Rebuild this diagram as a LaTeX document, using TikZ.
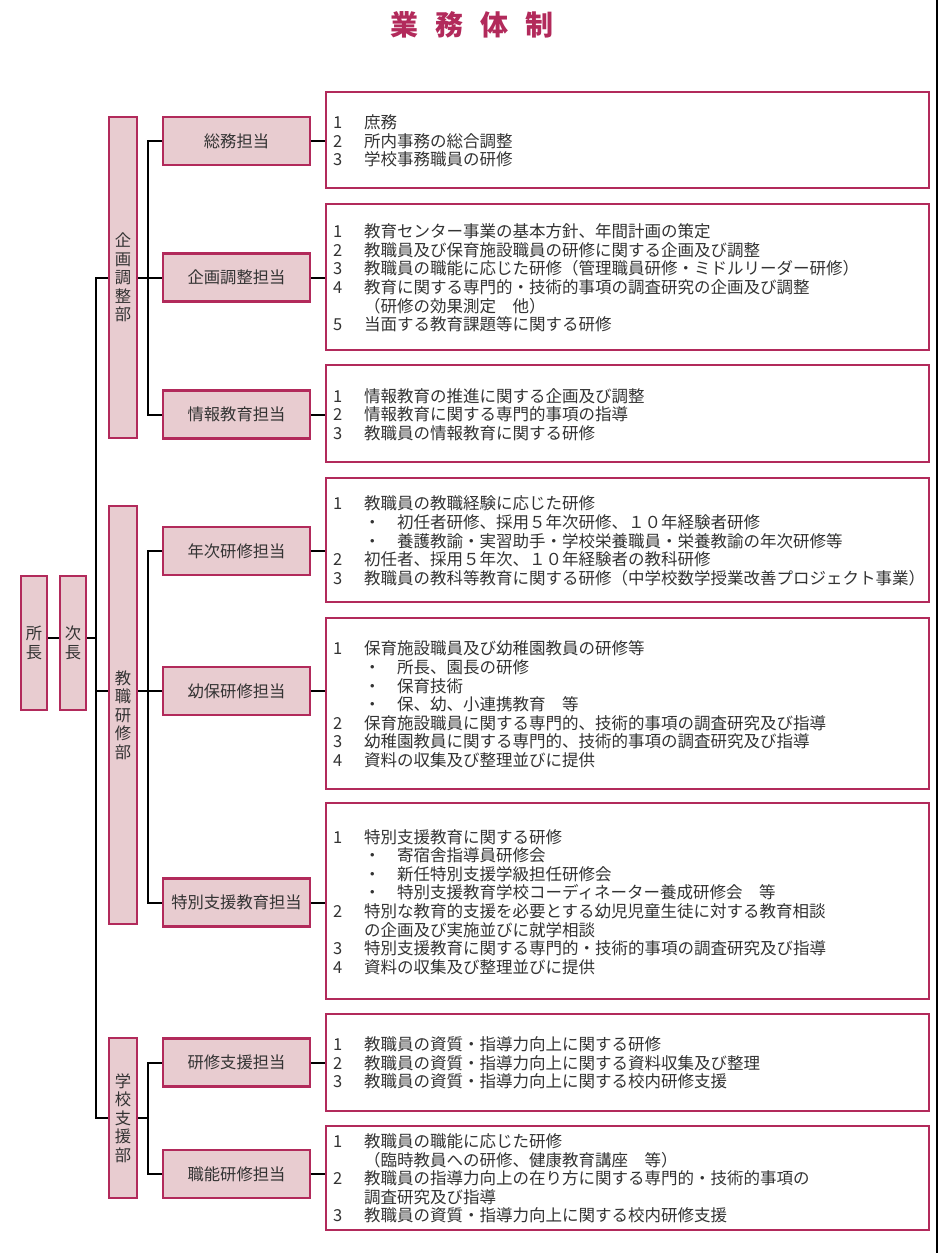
\documentclass[tikz,border=0pt]{standalone}
\usepackage{fontspec}
\setmainfont{Noto Sans CJK JP}
\definecolor{crim}{HTML}{B22A5B}
\definecolor{pinkfill}{HTML}{E8CCD0}
\definecolor{txtgray}{HTML}{333333}
\newcommand{\nm}[1]{\makebox[31pt][l]{#1}}
\tikzset{
  box/.style={draw=crim, line width=2.4pt, fill=pinkfill, inner sep=0pt, text=txtgray},
  tanto/.style={box, minimum width=147pt, minimum height=48pt, font=\fontsize{16.3}{18}\selectfont},
  bu/.style={box, minimum width=28pt, align=center, font=\fontsize{16.3}{18.5}\selectfont},
  head/.style={box, minimum width=26pt, minimum height=134pt, align=center, font=\fontsize{16.3}{19}\selectfont},
  content/.style={draw=crim, line width=2.4pt, fill=white, minimum width=603pt, inner sep=0pt},
  list/.style={anchor=west, inner sep=0pt, text=txtgray, font=\fontsize{16.5}{18.6}\selectfont, align=left},
  conn/.style={draw=black, line width=2pt},
}
\begin{document}
\begin{tikzpicture}[x=1pt, y=-1pt]
\useasboundingbox (0,0) rectangle (938,1253);

% title
\node[font=\fontsize{28}{28}\selectfont\bfseries, text=crim, inner sep=0pt] (title) at (472,25)
  {業\hspace{17pt}務\hspace{17pt}体\hspace{17pt}制};

% head boxes
\node[head] (shocho) at (34,643) {所\\長};
\node[head] (jicho) at (73,643) {次\\長};

% departments
\node[bu, minimum height=321pt] (kikaku) at (123,277.5) {企\\画\\調\\整\\部};
\node[bu, minimum height=418pt] (kyoshoku) at (123,715) {教\\職\\研\\修\\部};
\node[bu, minimum height=160pt] (gakko) at (123,1118) {学\\校\\支\\援\\部};

% sections
\node[tanto] (somu) at (236.5,141) {総務担当};
\node[tanto] (kikakuT) at (236.5,277.5) {企画調整担当};
\node[tanto] (joho) at (236.5,414.5) {情報教育担当};
\node[tanto] (nenji) at (236.5,551) {年次研修担当};
\node[tanto] (yoho) at (236.5,691) {幼保研修担当};
\node[tanto] (tokubetsu) at (236.5,902.5) {特別支援教育担当};
\node[tanto] (kenshu) at (236.5,1062.5) {研修支援担当};
\node[tanto] (shokuno) at (236.5,1174) {職能研修担当};

% content boxes
\node[content, minimum height=96pt] (c1) at (627.5,140) {};
\node[content, minimum height=146pt] (c2) at (627.5,277) {};
\node[content, minimum height=97pt] (c3) at (627.5,413.5) {};
\node[content, minimum height=124pt] (c4) at (627.5,540) {};
\node[content, minimum height=171pt] (c5) at (627.5,703.5) {};
\node[content, minimum height=196pt] (c6) at (627.5,901) {};
\node[content, minimum height=97pt] (c7) at (627.5,1062.5) {};
\node[content, minimum height=104pt] (c8) at (627.5,1178) {};

% content texts
\node[list] (t1) at (333,141) {\nm{1}庶務\\\nm{2}所内事務の総合調整\\\nm{3}学校事務職員の研修};
\node[list] (t2) at (333,278) {\nm{1}教育センター事業の基本方針、年間計画の策定\\
\nm{2}教職員及び保育施設職員の研修に関する企画及び調整\\
\nm{3}教職員の職能に応じた研修（管理職員研修・ミドルリーダー研修）\\
\nm{4}教育に関する専門的・技術的事項の調査研究の企画及び調整\\
\nm{}（研修の効果測定　他）\\
\nm{5}当面する教育課題等に関する研修};
\node[list] (t3) at (333,414.5) {\nm{1}情報教育の推進に関する企画及び調整\\
\nm{2}情報教育に関する専門的事項の指導\\
\nm{3}教職員の情報教育に関する研修};
\node[list] (t4) at (333,541) {\nm{1}教職員の教職経験に応じた研修\\
\nm{}・　初任者研修、採用５年次研修、１０年経験者研修\\
\nm{}・　養護教諭・実習助手・学校栄養職員・栄養教諭の年次研修等\\
\nm{2}初任者、採用５年次、１０年経験者の教科研修\\
\nm{3}教職員の教科等教育に関する研修（中学校数学授業改善プロジェクト事業）};
\node[list] (t5) at (333,704.5) {\nm{1}保育施設職員及び幼稚園教員の研修等\\
\nm{}・　所長、園長の研修\\
\nm{}・　保育技術\\
\nm{}・　保、幼、小連携教育　等\\
\nm{2}保育施設職員に関する専門的、技術的事項の調査研究及び指導\\
\nm{3}幼稚園教員に関する専門的、技術的事項の調査研究及び指導\\
\nm{4}資料の収集及び整理並びに提供};
\node[list] (t6) at (333,902) {\nm{1}特別支援教育に関する研修\\
\nm{}・　寄宿舎指導員研修会\\
\nm{}・　新任特別支援学級担任研修会\\
\nm{}・　特別支援教育学校コーディネーター養成研修会　等\\
\nm{2}特別な教育的支援を必要とする幼児児童生徒に対する教育相談\\
\nm{}の企画及び実施並びに就学相談\\
\nm{3}特別支援教育に関する専門的・技術的事項の調査研究及び指導\\
\nm{4}資料の収集及び整理並びに提供};
\node[list] (t7) at (333,1063) {\nm{1}教職員の資質・指導力向上に関する研修\\
\nm{2}教職員の資質・指導力向上に関する資料収集及び整理\\
\nm{3}教職員の資質・指導力向上に関する校内研修支援};
\node[list] (t8) at (333,1178.5) {\nm{1}教職員の職能に応じた研修\\
\nm{}（臨時教員への研修、健康教育講座　等）\\
\nm{2}教職員の指導力向上の在り方に関する専門的・技術的事項の\\
\nm{}調査研究及び指導\\
\nm{3}教職員の資質・指導力向上に関する校内研修支援};

% trunk coordinates
\coordinate (T) at (96,0);
\coordinate (S) at (148,0);
\coordinate (headY) at (0,638);
\coordinate (rt) at (937,0);
\coordinate (rb) at (937,1253);

% connectors
\draw[conn] (shocho.east |- headY) -- (jicho.west |- headY);
\draw[conn] (jicho.east |- headY) -- (T |- headY);
\draw[conn] (kikaku.west) -- (kikaku.west -| T) |- (gakko.west);
\draw[conn] (kyoshoku.west |- yoho.west) -- (T |- yoho.west);

\draw[conn] (somu.west) -- (somu.west -| S) |- (joho.west);
\draw[conn] (kikaku.east) -- (kikakuT.west);
\draw[conn] (nenji.west) -- (nenji.west -| S) |- (tokubetsu.west);
\draw[conn] (kyoshoku.east |- yoho.west) -- (yoho.west);
\draw[conn] (kenshu.west) -- (kenshu.west -| S) |- (shokuno.west);
\draw[conn] (gakko.east) -- (gakko.east -| S);

\draw[conn] (somu.east) -- (c1.west |- somu.east);
\draw[conn] (kikakuT.east) -- (c2.west |- kikakuT.east);
\draw[conn] (joho.east) -- (c3.west |- joho.east);
\draw[conn] (nenji.east) -- (c4.west |- nenji.east);
\draw[conn] (yoho.east) -- (c5.west |- yoho.east);
\draw[conn] (tokubetsu.east) -- (c6.west |- tokubetsu.east);
\draw[conn] (kenshu.east) -- (c7.west |- kenshu.east);
\draw[conn] (shokuno.east) -- (c8.west |- shokuno.east);

% right edge rule
\draw[line width=1.3pt] (rt) -- (rb);
\end{tikzpicture}
\end{document}
